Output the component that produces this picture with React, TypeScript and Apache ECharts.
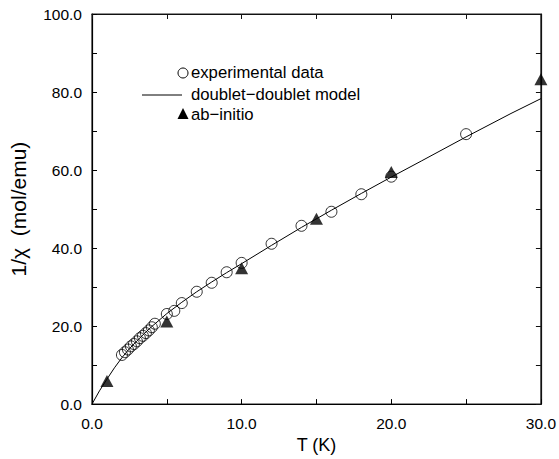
import React, { useEffect, useRef } from "react";
import * as echarts from "echarts";

const expT = [2.0, 2.2, 2.4, 2.6, 2.8, 3.0, 3.2, 3.4, 3.6, 3.8, 4.0, 4.2, 5.0, 5.5, 6.0, 7.0, 8.0, 9.0, 10.0, 12.0, 14.0, 16.0, 18.0, 20.0, 25.0];
const expY = [12.6, 13.3, 14.0, 14.8, 15.4, 16.1, 16.9, 17.5, 18.2, 18.9, 19.7, 20.6, 23.1, 23.9, 25.9, 28.8, 31.1, 33.8, 36.2, 41.1, 45.7, 49.3, 53.8, 58.3, 69.2];
const modelT = [0, 0.5, 1, 1.5, 2, 2.5, 3, 3.5, 4, 5, 6, 7, 8, 9, 10, 12, 14, 16, 18, 20, 22, 25, 28, 30];
const modelY = [0, 3.4, 6.4, 9.3, 11.9, 14.2, 16.2, 18.1, 19.9, 23.2, 26.1, 28.8, 31.3, 33.7, 36.0, 40.7, 45.3, 49.7, 54.0, 58.2, 62.3, 68.5, 74.5, 78.3];
const abT = [1.0, 5.0, 10.0, 15.0, 20.0, 30.0];
const abY = [5.9, 21.2, 34.8, 47.5, 59.5, 83.3];

const legendLabels = ["experimental data", "doublet\u2212doublet model", "ab\u2212initio"];
const xTitle = "T (K)";
const yTitle = "1/\u03c7  (mol/emu)";

const FONT = "Liberation Sans, Arial, Helvetica, sans-serif";

export default function App() {
  const ref = useRef<HTMLDivElement>(null);
  useEffect(() => {
    if (!ref.current) return;
    const chart = echarts.init(ref.current, null, { renderer: "svg" });
    const fmt = (v: number) => v.toFixed(1);
    const mk = (color: string, w: number) => ({
      type: "value",
      axisLine: { show: true, onZero: false, lineStyle: { color, width: w } },
      axisTick: { show: true, inside: true, length: 5, lineStyle: { color, width: 1 } },
      minorTick: { show: true, splitNumber: 2, length: 5, lineStyle: { color, width: 1 } },
      splitLine: { show: false },
      minorSplitLine: { show: false },
    });
    const tx = 191;
    chart.setOption({
      animation: false,
      backgroundColor: "#fff",
      grid: { left: 92, right: 16, top: 14, bottom: 49, containLabel: false, show: true, borderColor: "#222", borderWidth: 1.2, backgroundColor: "rgba(0,0,0,0)" },
      xAxis: [
        {
          ...mk("#000", 1.2),
          gridIndex: 0,
          min: 0, max: 30, interval: 10,
          name: xTitle, nameLocation: "middle", nameGap: 30,
          nameTextStyle: { fontFamily: FONT, fontSize: 18, color: "#000" },
          axisLabel: { formatter: fmt, fontFamily: FONT, fontSize: 15.5, color: "#000", margin: 11 },
        },
        {
          ...mk("#111", 1.2),
          gridIndex: 0,
          position: "top",
          min: 0, max: 30, interval: 10,
          axisLabel: { show: false },
        },
      ],
      yAxis: [
        {
          ...mk("#000", 1.2),
          gridIndex: 0,
          min: 0, max: 100, interval: 20,
          name: yTitle, nameLocation: "middle", nameGap: 63,
          nameTextStyle: { fontFamily: FONT, fontSize: 21, color: "#000" },
          axisLabel: { formatter: fmt, fontFamily: FONT, fontSize: 15.5, color: "#000", margin: 10 },
        },
        {
          ...mk("#111", 1.2),
          gridIndex: 0,
          position: "right",
          min: 0, max: 100, interval: 20,
          axisLabel: { show: false },
        },
      ],
      series: [
        {
          name: legendLabels[1],
          type: "line",
          data: modelT.map((t, i) => [t, modelY[i]]),
          showSymbol: false,
          smooth: false,
          lineStyle: { color: "#000", width: 1 },
          z: 1,
        },
        {
          name: legendLabels[0],
          type: "scatter",
          data: expT.map((t, i) => [t, expY[i]]),
          symbol: "circle",
          symbolSize: 11,
          itemStyle: { color: "rgba(0,0,0,0)", borderColor: "#000", borderWidth: 1 },
          z: 2,
        },
        {
          name: legendLabels[2],
          type: "scatter",
          data: abT.map((t, i) => [t, abY[i]]),
          symbol: "triangle",
          symbolSize: [13, 12],
          itemStyle: { color: "#000" },
          z: 3,
        },
      ],
      graphic: [
        { type: "circle", shape: { cx: 183, cy: 73, r: 5 }, style: { fill: "none", stroke: "#000", lineWidth: 1 } },
        { type: "text", left: tx, top: 64, style: { text: legendLabels[0], font: `16.7px ${FONT}`, fill: "#000" } },
        { type: "line", shape: { x1: 142, y1: 95, x2: 182, y2: 95 }, style: { stroke: "#000", lineWidth: 1 } },
        { type: "text", left: tx, top: 86, style: { text: legendLabels[1], font: `16.7px ${FONT}`, fill: "#000" } },
        { type: "polygon", shape: { points: [[183, 108], [177.5, 119], [188.5, 119]] }, style: { fill: "#000" } },
        { type: "text", left: tx, top: 106, style: { text: legendLabels[2], font: `16.7px ${FONT}`, fill: "#000" } },
      ],
    });
    return () => chart.dispose();
  }, []);
  return <div ref={ref} style={{ width: 559, height: 459, position: "absolute", left: 0, top: 0 }} />;
}
